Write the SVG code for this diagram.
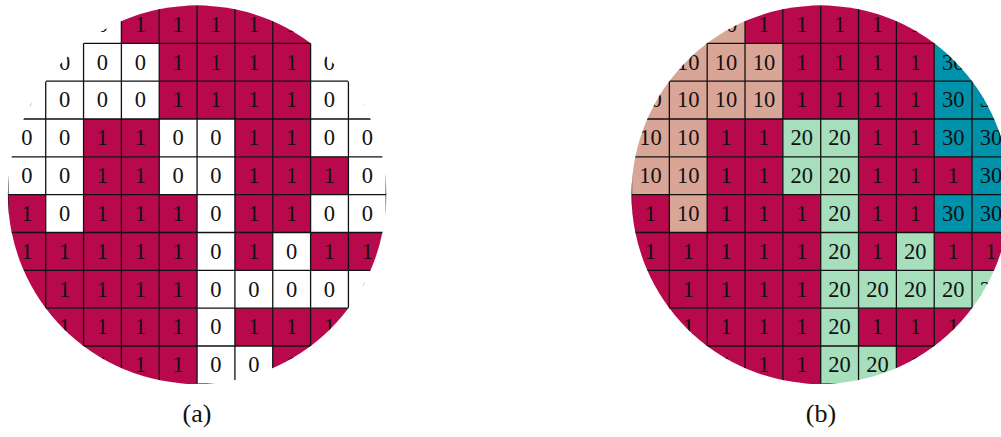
<svg xmlns="http://www.w3.org/2000/svg" width="1001" height="437" viewBox="0 0 1001 437">
<style>
text{font-family:"Liberation Serif","DejaVu Serif",serif;font-size:22.5px;fill:#111;text-anchor:middle}
.m rect{fill:#B8094C}
.w rect{fill:#FFFFFF}
.p rect{fill:#D9A596}
.g rect{fill:#A7DFBD}
.t rect{fill:#0092AB}
.grid{fill:none;stroke:#111;stroke-width:1.3}
text.cap{font-size:26px}
</style>
<defs>
<clipPath id="disc" clipPathUnits="userSpaceOnUse"><circle cx="189.2" cy="189.2" r="189.2"/></clipPath>
<path id="gridlines" d="M0 0H378.4M0 37.84H378.4M0 75.68H378.4M0 113.52H378.4M0 151.36H378.4M0 189.2H378.4M0 227.04H378.4M0 264.88H378.4M0 302.72H378.4M0 340.56H378.4M0 378.4H378.4M0 0V378.4M37.84 0V378.4M75.68 0V378.4M113.52 0V378.4M151.36 0V378.4M189.2 0V378.4M227.04 0V378.4M264.88 0V378.4M302.72 0V378.4M340.56 0V378.4M378.4 0V378.4"/>
</defs>

<g id="panel-a" transform="translate(7.87,5.46)" clip-path="url(#disc)">
<g id="a-r0c2" class="w"><rect x="75.68" y="0" width="37.84" height="37.84"/><text x="94.6" y="26.3">0</text></g>
<g id="a-r0c3" class="m"><rect x="113.52" y="0" width="37.84" height="37.84"/><text x="132.44" y="26.3">1</text></g>
<g id="a-r0c4" class="m"><rect x="151.36" y="0" width="37.84" height="37.84"/><text x="170.28" y="26.3">1</text></g>
<g id="a-r0c5" class="m"><rect x="189.2" y="0" width="37.84" height="37.84"/><text x="208.12" y="26.3">1</text></g>
<g id="a-r0c6" class="m"><rect x="227.04" y="0" width="37.84" height="37.84"/><text x="245.96" y="26.3">1</text></g>
<g id="a-r0c7" class="m"><rect x="264.88" y="0" width="37.84" height="37.84"/><text x="283.8" y="26.3">1</text></g>

<g id="a-r1c1" class="w"><rect x="37.84" y="37.84" width="37.84" height="37.84"/><text x="56.76" y="64.14">0</text></g>
<g id="a-r1c2" class="w"><rect x="75.68" y="37.84" width="37.84" height="37.84"/><text x="94.6" y="64.14">0</text></g>
<g id="a-r1c3" class="w"><rect x="113.52" y="37.84" width="37.84" height="37.84"/><text x="132.44" y="64.14">0</text></g>
<g id="a-r1c4" class="m"><rect x="151.36" y="37.84" width="37.84" height="37.84"/><text x="170.28" y="64.14">1</text></g>
<g id="a-r1c5" class="m"><rect x="189.2" y="37.84" width="37.84" height="37.84"/><text x="208.12" y="64.14">1</text></g>
<g id="a-r1c6" class="m"><rect x="227.04" y="37.84" width="37.84" height="37.84"/><text x="245.96" y="64.14">1</text></g>
<g id="a-r1c7" class="m"><rect x="264.88" y="37.84" width="37.84" height="37.84"/><text x="283.8" y="64.14">1</text></g>
<g id="a-r1c8" class="w"><rect x="302.72" y="37.84" width="37.84" height="37.84"/><text x="321.64" y="64.14">0</text></g>

<g id="a-r2c0" class="w"><rect x="0" y="75.68" width="37.84" height="37.84"/><text x="18.92" y="101.98">0</text></g>
<g id="a-r2c1" class="w"><rect x="37.84" y="75.68" width="37.84" height="37.84"/><text x="56.76" y="101.98">0</text></g>
<g id="a-r2c2" class="w"><rect x="75.68" y="75.68" width="37.84" height="37.84"/><text x="94.6" y="101.98">0</text></g>
<g id="a-r2c3" class="w"><rect x="113.52" y="75.68" width="37.84" height="37.84"/><text x="132.44" y="101.98">0</text></g>
<g id="a-r2c4" class="m"><rect x="151.36" y="75.68" width="37.84" height="37.84"/><text x="170.28" y="101.98">1</text></g>
<g id="a-r2c5" class="m"><rect x="189.2" y="75.68" width="37.84" height="37.84"/><text x="208.12" y="101.98">1</text></g>
<g id="a-r2c6" class="m"><rect x="227.04" y="75.68" width="37.84" height="37.84"/><text x="245.96" y="101.98">1</text></g>
<g id="a-r2c7" class="m"><rect x="264.88" y="75.68" width="37.84" height="37.84"/><text x="283.8" y="101.98">1</text></g>
<g id="a-r2c8" class="w"><rect x="302.72" y="75.68" width="37.84" height="37.84"/><text x="321.64" y="101.98">0</text></g>
<g id="a-r2c9" class="w"><rect x="340.56" y="75.68" width="37.84" height="37.84"/><text x="359.48" y="101.98">0</text></g>

<g id="a-r3c0" class="w"><rect x="0" y="113.52" width="37.84" height="37.84"/><text x="18.92" y="139.82">0</text></g>
<g id="a-r3c1" class="w"><rect x="37.84" y="113.52" width="37.84" height="37.84"/><text x="56.76" y="139.82">0</text></g>
<g id="a-r3c2" class="m"><rect x="75.68" y="113.52" width="37.84" height="37.84"/><text x="94.6" y="139.82">1</text></g>
<g id="a-r3c3" class="m"><rect x="113.52" y="113.52" width="37.84" height="37.84"/><text x="132.44" y="139.82">1</text></g>
<g id="a-r3c4" class="w"><rect x="151.36" y="113.52" width="37.84" height="37.84"/><text x="170.28" y="139.82">0</text></g>
<g id="a-r3c5" class="w"><rect x="189.2" y="113.52" width="37.84" height="37.84"/><text x="208.12" y="139.82">0</text></g>
<g id="a-r3c6" class="m"><rect x="227.04" y="113.52" width="37.84" height="37.84"/><text x="245.96" y="139.82">1</text></g>
<g id="a-r3c7" class="m"><rect x="264.88" y="113.52" width="37.84" height="37.84"/><text x="283.8" y="139.82">1</text></g>
<g id="a-r3c8" class="w"><rect x="302.72" y="113.52" width="37.84" height="37.84"/><text x="321.64" y="139.82">0</text></g>
<g id="a-r3c9" class="w"><rect x="340.56" y="113.52" width="37.84" height="37.84"/><text x="359.48" y="139.82">0</text></g>

<g id="a-r4c0" class="w"><rect x="0" y="151.36" width="37.84" height="37.84"/><text x="18.92" y="177.66">0</text></g>
<g id="a-r4c1" class="w"><rect x="37.84" y="151.36" width="37.84" height="37.84"/><text x="56.76" y="177.66">0</text></g>
<g id="a-r4c2" class="m"><rect x="75.68" y="151.36" width="37.84" height="37.84"/><text x="94.6" y="177.66">1</text></g>
<g id="a-r4c3" class="m"><rect x="113.52" y="151.36" width="37.84" height="37.84"/><text x="132.44" y="177.66">1</text></g>
<g id="a-r4c4" class="w"><rect x="151.36" y="151.36" width="37.84" height="37.84"/><text x="170.28" y="177.66">0</text></g>
<g id="a-r4c5" class="w"><rect x="189.2" y="151.36" width="37.84" height="37.84"/><text x="208.12" y="177.66">0</text></g>
<g id="a-r4c6" class="m"><rect x="227.04" y="151.36" width="37.84" height="37.84"/><text x="245.96" y="177.66">1</text></g>
<g id="a-r4c7" class="m"><rect x="264.88" y="151.36" width="37.84" height="37.84"/><text x="283.8" y="177.66">1</text></g>
<g id="a-r4c8" class="m"><rect x="302.72" y="151.36" width="37.84" height="37.84"/><text x="321.64" y="177.66">1</text></g>
<g id="a-r4c9" class="w"><rect x="340.56" y="151.36" width="37.84" height="37.84"/><text x="359.48" y="177.66">0</text></g>

<g id="a-r5c0" class="m"><rect x="0" y="189.2" width="37.84" height="37.84"/><text x="18.92" y="215.5">1</text></g>
<g id="a-r5c1" class="w"><rect x="37.84" y="189.2" width="37.84" height="37.84"/><text x="56.76" y="215.5">0</text></g>
<g id="a-r5c2" class="m"><rect x="75.68" y="189.2" width="37.84" height="37.84"/><text x="94.6" y="215.5">1</text></g>
<g id="a-r5c3" class="m"><rect x="113.52" y="189.2" width="37.84" height="37.84"/><text x="132.44" y="215.5">1</text></g>
<g id="a-r5c4" class="m"><rect x="151.36" y="189.2" width="37.84" height="37.84"/><text x="170.28" y="215.5">1</text></g>
<g id="a-r5c5" class="w"><rect x="189.2" y="189.2" width="37.84" height="37.84"/><text x="208.12" y="215.5">0</text></g>
<g id="a-r5c6" class="m"><rect x="227.04" y="189.2" width="37.84" height="37.84"/><text x="245.96" y="215.5">1</text></g>
<g id="a-r5c7" class="m"><rect x="264.88" y="189.2" width="37.84" height="37.84"/><text x="283.8" y="215.5">1</text></g>
<g id="a-r5c8" class="w"><rect x="302.72" y="189.2" width="37.84" height="37.84"/><text x="321.64" y="215.5">0</text></g>
<g id="a-r5c9" class="w"><rect x="340.56" y="189.2" width="37.84" height="37.84"/><text x="359.48" y="215.5">0</text></g>

<g id="a-r6c0" class="m"><rect x="0" y="227.04" width="37.84" height="37.84"/><text x="18.92" y="253.34">1</text></g>
<g id="a-r6c1" class="m"><rect x="37.84" y="227.04" width="37.84" height="37.84"/><text x="56.76" y="253.34">1</text></g>
<g id="a-r6c2" class="m"><rect x="75.68" y="227.04" width="37.84" height="37.84"/><text x="94.6" y="253.34">1</text></g>
<g id="a-r6c3" class="m"><rect x="113.52" y="227.04" width="37.84" height="37.84"/><text x="132.44" y="253.34">1</text></g>
<g id="a-r6c4" class="m"><rect x="151.36" y="227.04" width="37.84" height="37.84"/><text x="170.28" y="253.34">1</text></g>
<g id="a-r6c5" class="w"><rect x="189.2" y="227.04" width="37.84" height="37.84"/><text x="208.12" y="253.34">0</text></g>
<g id="a-r6c6" class="m"><rect x="227.04" y="227.04" width="37.84" height="37.84"/><text x="245.96" y="253.34">1</text></g>
<g id="a-r6c7" class="w"><rect x="264.88" y="227.04" width="37.84" height="37.84"/><text x="283.8" y="253.34">0</text></g>
<g id="a-r6c8" class="m"><rect x="302.72" y="227.04" width="37.84" height="37.84"/><text x="321.64" y="253.34">1</text></g>
<g id="a-r6c9" class="m"><rect x="340.56" y="227.04" width="37.84" height="37.84"/><text x="359.48" y="253.34">1</text></g>

<g id="a-r7c0" class="m"><rect x="0" y="264.88" width="37.84" height="37.84"/><text x="18.92" y="291.18">1</text></g>
<g id="a-r7c1" class="m"><rect x="37.84" y="264.88" width="37.84" height="37.84"/><text x="56.76" y="291.18">1</text></g>
<g id="a-r7c2" class="m"><rect x="75.68" y="264.88" width="37.84" height="37.84"/><text x="94.6" y="291.18">1</text></g>
<g id="a-r7c3" class="m"><rect x="113.52" y="264.88" width="37.84" height="37.84"/><text x="132.44" y="291.18">1</text></g>
<g id="a-r7c4" class="m"><rect x="151.36" y="264.88" width="37.84" height="37.84"/><text x="170.28" y="291.18">1</text></g>
<g id="a-r7c5" class="w"><rect x="189.2" y="264.88" width="37.84" height="37.84"/><text x="208.12" y="291.18">0</text></g>
<g id="a-r7c6" class="w"><rect x="227.04" y="264.88" width="37.84" height="37.84"/><text x="245.96" y="291.18">0</text></g>
<g id="a-r7c7" class="w"><rect x="264.88" y="264.88" width="37.84" height="37.84"/><text x="283.8" y="291.18">0</text></g>
<g id="a-r7c8" class="w"><rect x="302.72" y="264.88" width="37.84" height="37.84"/><text x="321.64" y="291.18">0</text></g>
<g id="a-r7c9" class="w"><rect x="340.56" y="264.88" width="37.84" height="37.84"/><text x="359.48" y="291.18">0</text></g>

<g id="a-r8c1" class="m"><rect x="37.84" y="302.72" width="37.84" height="37.84"/><text x="56.76" y="329.02">1</text></g>
<g id="a-r8c2" class="m"><rect x="75.68" y="302.72" width="37.84" height="37.84"/><text x="94.6" y="329.02">1</text></g>
<g id="a-r8c3" class="m"><rect x="113.52" y="302.72" width="37.84" height="37.84"/><text x="132.44" y="329.02">1</text></g>
<g id="a-r8c4" class="m"><rect x="151.36" y="302.72" width="37.84" height="37.84"/><text x="170.28" y="329.02">1</text></g>
<g id="a-r8c5" class="w"><rect x="189.2" y="302.72" width="37.84" height="37.84"/><text x="208.12" y="329.02">0</text></g>
<g id="a-r8c6" class="m"><rect x="227.04" y="302.72" width="37.84" height="37.84"/><text x="245.96" y="329.02">1</text></g>
<g id="a-r8c7" class="m"><rect x="264.88" y="302.72" width="37.84" height="37.84"/><text x="283.8" y="329.02">1</text></g>
<g id="a-r8c8" class="m"><rect x="302.72" y="302.72" width="37.84" height="37.84"/><text x="321.64" y="329.02">1</text></g>

<g id="a-r9c2" class="m"><rect x="75.68" y="340.56" width="37.84" height="37.84"/><text x="94.6" y="366.86">1</text></g>
<g id="a-r9c3" class="m"><rect x="113.52" y="340.56" width="37.84" height="37.84"/><text x="132.44" y="366.86">1</text></g>
<g id="a-r9c4" class="m"><rect x="151.36" y="340.56" width="37.84" height="37.84"/><text x="170.28" y="366.86">1</text></g>
<g id="a-r9c5" class="w"><rect x="189.2" y="340.56" width="37.84" height="37.84"/><text x="208.12" y="366.86">0</text></g>
<g id="a-r9c6" class="w"><rect x="227.04" y="340.56" width="37.84" height="37.84"/><text x="245.96" y="366.86">0</text></g>
<g id="a-r9c7" class="m"><rect x="264.88" y="340.56" width="37.84" height="37.84"/><text x="283.8" y="366.86">1</text></g>

<g id="a-grid"><use href="#gridlines" class="grid"/></g>
</g>

<g id="panel-b" transform="translate(631.5,5.46)" clip-path="url(#disc)">
<g id="b-r0c2" class="p"><rect x="75.68" y="0" width="37.84" height="37.84"/><text x="94.6" y="26.3">10</text></g>
<g id="b-r0c3" class="m"><rect x="113.52" y="0" width="37.84" height="37.84"/><text x="132.44" y="26.3">1</text></g>
<g id="b-r0c4" class="m"><rect x="151.36" y="0" width="37.84" height="37.84"/><text x="170.28" y="26.3">1</text></g>
<g id="b-r0c5" class="m"><rect x="189.2" y="0" width="37.84" height="37.84"/><text x="208.12" y="26.3">1</text></g>
<g id="b-r0c6" class="m"><rect x="227.04" y="0" width="37.84" height="37.84"/><text x="245.96" y="26.3">1</text></g>
<g id="b-r0c7" class="m"><rect x="264.88" y="0" width="37.84" height="37.84"/><text x="283.8" y="26.3">1</text></g>

<g id="b-r1c1" class="p"><rect x="37.84" y="37.84" width="37.84" height="37.84"/><text x="56.76" y="64.14">10</text></g>
<g id="b-r1c2" class="p"><rect x="75.68" y="37.84" width="37.84" height="37.84"/><text x="94.6" y="64.14">10</text></g>
<g id="b-r1c3" class="p"><rect x="113.52" y="37.84" width="37.84" height="37.84"/><text x="132.44" y="64.14">10</text></g>
<g id="b-r1c4" class="m"><rect x="151.36" y="37.84" width="37.84" height="37.84"/><text x="170.28" y="64.14">1</text></g>
<g id="b-r1c5" class="m"><rect x="189.2" y="37.84" width="37.84" height="37.84"/><text x="208.12" y="64.14">1</text></g>
<g id="b-r1c6" class="m"><rect x="227.04" y="37.84" width="37.84" height="37.84"/><text x="245.96" y="64.14">1</text></g>
<g id="b-r1c7" class="m"><rect x="264.88" y="37.84" width="37.84" height="37.84"/><text x="283.8" y="64.14">1</text></g>
<g id="b-r1c8" class="t"><rect x="302.72" y="37.84" width="37.84" height="37.84"/><text x="321.64" y="64.14">30</text></g>

<g id="b-r2c0" class="p"><rect x="0" y="75.68" width="37.84" height="37.84"/><text x="18.92" y="101.98">10</text></g>
<g id="b-r2c1" class="p"><rect x="37.84" y="75.68" width="37.84" height="37.84"/><text x="56.76" y="101.98">10</text></g>
<g id="b-r2c2" class="p"><rect x="75.68" y="75.68" width="37.84" height="37.84"/><text x="94.6" y="101.98">10</text></g>
<g id="b-r2c3" class="p"><rect x="113.52" y="75.68" width="37.84" height="37.84"/><text x="132.44" y="101.98">10</text></g>
<g id="b-r2c4" class="m"><rect x="151.36" y="75.68" width="37.84" height="37.84"/><text x="170.28" y="101.98">1</text></g>
<g id="b-r2c5" class="m"><rect x="189.2" y="75.68" width="37.84" height="37.84"/><text x="208.12" y="101.98">1</text></g>
<g id="b-r2c6" class="m"><rect x="227.04" y="75.68" width="37.84" height="37.84"/><text x="245.96" y="101.98">1</text></g>
<g id="b-r2c7" class="m"><rect x="264.88" y="75.68" width="37.84" height="37.84"/><text x="283.8" y="101.98">1</text></g>
<g id="b-r2c8" class="t"><rect x="302.72" y="75.68" width="37.84" height="37.84"/><text x="321.64" y="101.98">30</text></g>
<g id="b-r2c9" class="t"><rect x="340.56" y="75.68" width="37.84" height="37.84"/><text x="359.48" y="101.98">30</text></g>

<g id="b-r3c0" class="p"><rect x="0" y="113.52" width="37.84" height="37.84"/><text x="18.92" y="139.82">10</text></g>
<g id="b-r3c1" class="p"><rect x="37.84" y="113.52" width="37.84" height="37.84"/><text x="56.76" y="139.82">10</text></g>
<g id="b-r3c2" class="m"><rect x="75.68" y="113.52" width="37.84" height="37.84"/><text x="94.6" y="139.82">1</text></g>
<g id="b-r3c3" class="m"><rect x="113.52" y="113.52" width="37.84" height="37.84"/><text x="132.44" y="139.82">1</text></g>
<g id="b-r3c4" class="g"><rect x="151.36" y="113.52" width="37.84" height="37.84"/><text x="170.28" y="139.82">20</text></g>
<g id="b-r3c5" class="g"><rect x="189.2" y="113.52" width="37.84" height="37.84"/><text x="208.12" y="139.82">20</text></g>
<g id="b-r3c6" class="m"><rect x="227.04" y="113.52" width="37.84" height="37.84"/><text x="245.96" y="139.82">1</text></g>
<g id="b-r3c7" class="m"><rect x="264.88" y="113.52" width="37.84" height="37.84"/><text x="283.8" y="139.82">1</text></g>
<g id="b-r3c8" class="t"><rect x="302.72" y="113.52" width="37.84" height="37.84"/><text x="321.64" y="139.82">30</text></g>
<g id="b-r3c9" class="t"><rect x="340.56" y="113.52" width="37.84" height="37.84"/><text x="359.48" y="139.82">30</text></g>

<g id="b-r4c0" class="p"><rect x="0" y="151.36" width="37.84" height="37.84"/><text x="18.92" y="177.66">10</text></g>
<g id="b-r4c1" class="p"><rect x="37.84" y="151.36" width="37.84" height="37.84"/><text x="56.76" y="177.66">10</text></g>
<g id="b-r4c2" class="m"><rect x="75.68" y="151.36" width="37.84" height="37.84"/><text x="94.6" y="177.66">1</text></g>
<g id="b-r4c3" class="m"><rect x="113.52" y="151.36" width="37.84" height="37.84"/><text x="132.44" y="177.66">1</text></g>
<g id="b-r4c4" class="g"><rect x="151.36" y="151.36" width="37.84" height="37.84"/><text x="170.28" y="177.66">20</text></g>
<g id="b-r4c5" class="g"><rect x="189.2" y="151.36" width="37.84" height="37.84"/><text x="208.12" y="177.66">20</text></g>
<g id="b-r4c6" class="m"><rect x="227.04" y="151.36" width="37.84" height="37.84"/><text x="245.96" y="177.66">1</text></g>
<g id="b-r4c7" class="m"><rect x="264.88" y="151.36" width="37.84" height="37.84"/><text x="283.8" y="177.66">1</text></g>
<g id="b-r4c8" class="m"><rect x="302.72" y="151.36" width="37.84" height="37.84"/><text x="321.64" y="177.66">1</text></g>
<g id="b-r4c9" class="t"><rect x="340.56" y="151.36" width="37.84" height="37.84"/><text x="359.48" y="177.66">30</text></g>

<g id="b-r5c0" class="m"><rect x="0" y="189.2" width="37.84" height="37.84"/><text x="18.92" y="215.5">1</text></g>
<g id="b-r5c1" class="p"><rect x="37.84" y="189.2" width="37.84" height="37.84"/><text x="56.76" y="215.5">10</text></g>
<g id="b-r5c2" class="m"><rect x="75.68" y="189.2" width="37.84" height="37.84"/><text x="94.6" y="215.5">1</text></g>
<g id="b-r5c3" class="m"><rect x="113.52" y="189.2" width="37.84" height="37.84"/><text x="132.44" y="215.5">1</text></g>
<g id="b-r5c4" class="m"><rect x="151.36" y="189.2" width="37.84" height="37.84"/><text x="170.28" y="215.5">1</text></g>
<g id="b-r5c5" class="g"><rect x="189.2" y="189.2" width="37.84" height="37.84"/><text x="208.12" y="215.5">20</text></g>
<g id="b-r5c6" class="m"><rect x="227.04" y="189.2" width="37.84" height="37.84"/><text x="245.96" y="215.5">1</text></g>
<g id="b-r5c7" class="m"><rect x="264.88" y="189.2" width="37.84" height="37.84"/><text x="283.8" y="215.5">1</text></g>
<g id="b-r5c8" class="t"><rect x="302.72" y="189.2" width="37.84" height="37.84"/><text x="321.64" y="215.5">30</text></g>
<g id="b-r5c9" class="t"><rect x="340.56" y="189.2" width="37.84" height="37.84"/><text x="359.48" y="215.5">30</text></g>

<g id="b-r6c0" class="m"><rect x="0" y="227.04" width="37.84" height="37.84"/><text x="18.92" y="253.34">1</text></g>
<g id="b-r6c1" class="m"><rect x="37.84" y="227.04" width="37.84" height="37.84"/><text x="56.76" y="253.34">1</text></g>
<g id="b-r6c2" class="m"><rect x="75.68" y="227.04" width="37.84" height="37.84"/><text x="94.6" y="253.34">1</text></g>
<g id="b-r6c3" class="m"><rect x="113.52" y="227.04" width="37.84" height="37.84"/><text x="132.44" y="253.34">1</text></g>
<g id="b-r6c4" class="m"><rect x="151.36" y="227.04" width="37.84" height="37.84"/><text x="170.28" y="253.34">1</text></g>
<g id="b-r6c5" class="g"><rect x="189.2" y="227.04" width="37.84" height="37.84"/><text x="208.12" y="253.34">20</text></g>
<g id="b-r6c6" class="m"><rect x="227.04" y="227.04" width="37.84" height="37.84"/><text x="245.96" y="253.34">1</text></g>
<g id="b-r6c7" class="g"><rect x="264.88" y="227.04" width="37.84" height="37.84"/><text x="283.8" y="253.34">20</text></g>
<g id="b-r6c8" class="m"><rect x="302.72" y="227.04" width="37.84" height="37.84"/><text x="321.64" y="253.34">1</text></g>
<g id="b-r6c9" class="m"><rect x="340.56" y="227.04" width="37.84" height="37.84"/><text x="359.48" y="253.34">1</text></g>

<g id="b-r7c0" class="m"><rect x="0" y="264.88" width="37.84" height="37.84"/><text x="18.92" y="291.18">1</text></g>
<g id="b-r7c1" class="m"><rect x="37.84" y="264.88" width="37.84" height="37.84"/><text x="56.76" y="291.18">1</text></g>
<g id="b-r7c2" class="m"><rect x="75.68" y="264.88" width="37.84" height="37.84"/><text x="94.6" y="291.18">1</text></g>
<g id="b-r7c3" class="m"><rect x="113.52" y="264.88" width="37.84" height="37.84"/><text x="132.44" y="291.18">1</text></g>
<g id="b-r7c4" class="m"><rect x="151.36" y="264.88" width="37.84" height="37.84"/><text x="170.28" y="291.18">1</text></g>
<g id="b-r7c5" class="g"><rect x="189.2" y="264.88" width="37.84" height="37.84"/><text x="208.12" y="291.18">20</text></g>
<g id="b-r7c6" class="g"><rect x="227.04" y="264.88" width="37.84" height="37.84"/><text x="245.96" y="291.18">20</text></g>
<g id="b-r7c7" class="g"><rect x="264.88" y="264.88" width="37.84" height="37.84"/><text x="283.8" y="291.18">20</text></g>
<g id="b-r7c8" class="g"><rect x="302.72" y="264.88" width="37.84" height="37.84"/><text x="321.64" y="291.18">20</text></g>
<g id="b-r7c9" class="g"><rect x="340.56" y="264.88" width="37.84" height="37.84"/><text x="359.48" y="291.18">20</text></g>

<g id="b-r8c1" class="m"><rect x="37.84" y="302.72" width="37.84" height="37.84"/><text x="56.76" y="329.02">1</text></g>
<g id="b-r8c2" class="m"><rect x="75.68" y="302.72" width="37.84" height="37.84"/><text x="94.6" y="329.02">1</text></g>
<g id="b-r8c3" class="m"><rect x="113.52" y="302.72" width="37.84" height="37.84"/><text x="132.44" y="329.02">1</text></g>
<g id="b-r8c4" class="m"><rect x="151.36" y="302.72" width="37.84" height="37.84"/><text x="170.28" y="329.02">1</text></g>
<g id="b-r8c5" class="g"><rect x="189.2" y="302.72" width="37.84" height="37.84"/><text x="208.12" y="329.02">20</text></g>
<g id="b-r8c6" class="m"><rect x="227.04" y="302.72" width="37.84" height="37.84"/><text x="245.96" y="329.02">1</text></g>
<g id="b-r8c7" class="m"><rect x="264.88" y="302.72" width="37.84" height="37.84"/><text x="283.8" y="329.02">1</text></g>
<g id="b-r8c8" class="m"><rect x="302.72" y="302.72" width="37.84" height="37.84"/><text x="321.64" y="329.02">1</text></g>

<g id="b-r9c2" class="m"><rect x="75.68" y="340.56" width="37.84" height="37.84"/><text x="94.6" y="366.86">1</text></g>
<g id="b-r9c3" class="m"><rect x="113.52" y="340.56" width="37.84" height="37.84"/><text x="132.44" y="366.86">1</text></g>
<g id="b-r9c4" class="m"><rect x="151.36" y="340.56" width="37.84" height="37.84"/><text x="170.28" y="366.86">1</text></g>
<g id="b-r9c5" class="g"><rect x="189.2" y="340.56" width="37.84" height="37.84"/><text x="208.12" y="366.86">20</text></g>
<g id="b-r9c6" class="g"><rect x="227.04" y="340.56" width="37.84" height="37.84"/><text x="245.96" y="366.86">20</text></g>
<g id="b-r9c7" class="m"><rect x="264.88" y="340.56" width="37.84" height="37.84"/><text x="283.8" y="366.86">1</text></g>

<g id="b-grid"><use href="#gridlines" class="grid"/></g>
</g>

<g id="captions">
<text class="cap" x="197" y="422">(a)</text>
<text class="cap" x="821" y="422">(b)</text>
</g>
</svg>
